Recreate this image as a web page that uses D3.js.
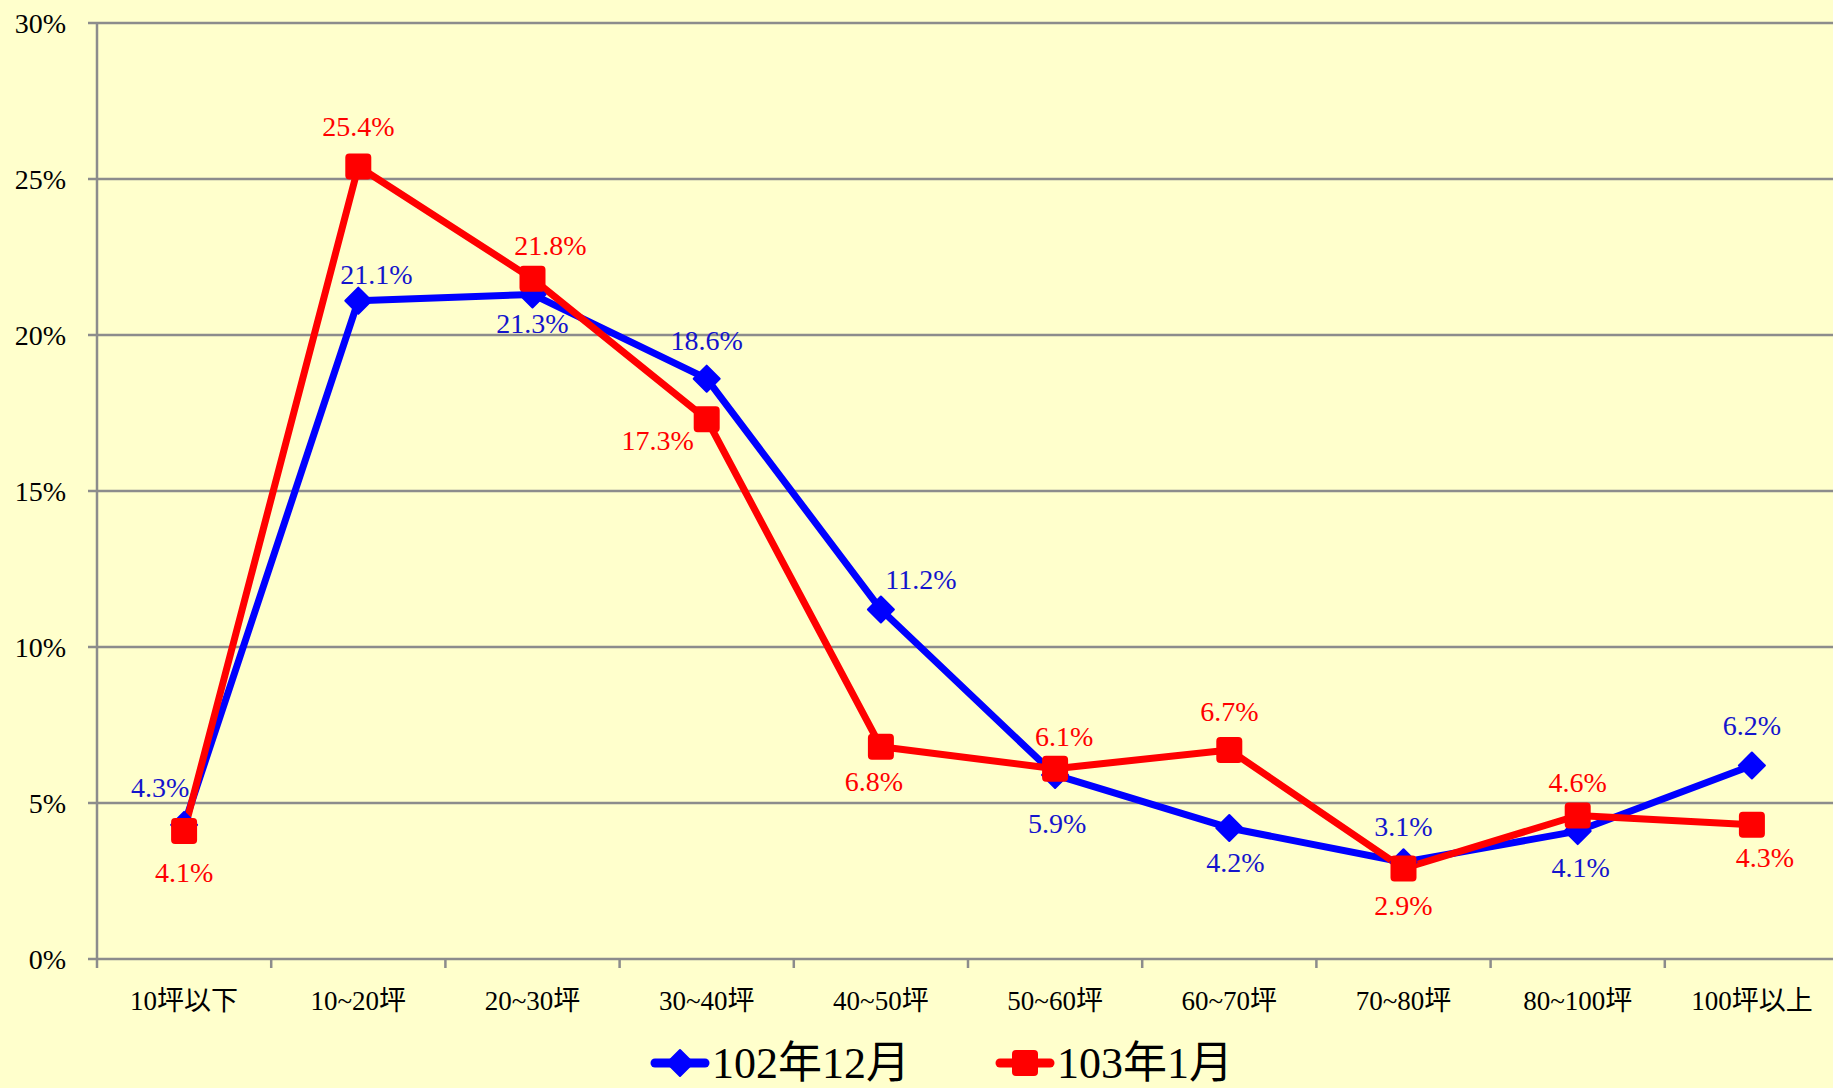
<!DOCTYPE html>
<html>
<head>
<meta charset="utf-8">
<script src="https://cdn.jsdelivr.net/npm/d3@7"></script>
<style>
  html, body { margin: 0; padding: 0; background: #ffffcc; }
  svg { display: block; }
</style>
</head>
<body>
<div id="chart"></div>
<script>
const categories = ['10坪以下', '10~20坪', '20~30坪', '30~40坪', '40~50坪', '50~60坪', '60~70坪', '70~80坪', '80~100坪', '100坪以上'];
const seriesNames = ['102年12月', '103年1月'];
const dec102 = [4.3, 21.1, 21.3, 18.6, 11.2, 5.9, 4.2, 3.1, 4.1, 6.2];
const jan103 = [4.1, 25.4, 21.8, 17.3, 6.8, 6.1, 6.7, 2.9, 4.6, 4.3];
const yTicks = [0, 5, 10, 15, 20, 25, 30];

// label offsets (px) from each point
const decLabelOffset = [[-24, -38], [18, -26], [0, 29], [0, -38], [40, -30], [2, 48], [6, 34], [0, -36], [3, 36], [0, -40]];
const janLabelOffset = [[0, 41], [0, -40], [18, -34], [-49, 21], [-7, 34], [9, -32], [0, -39], [0, 37], [0, -33], [13, 32]];

const FONT = '"Liberation Serif", "Times New Roman", "DejaVu Serif", "Noto Sans CJK TC", serif';

const W = 1833, H = 1088;
const margin = { top: 23, left: 97 };
const plotW = 174.2 * categories.length;
const plotH = 936;

const svg = d3.select('#chart').append('svg')
  .attr('width', W).attr('height', H)
  .attr('font-family', FONT);

svg.append('rect').attr('width', W).attr('height', H).attr('fill', '#ffffcc');

const g = svg.append('g').attr('transform', `translate(${margin.left},${margin.top})`);

const x = d3.scaleBand().domain(categories).range([0, plotW]);
const y = d3.scaleLinear().domain([0, 30]).range([plotH, 0]);

// gridlines
g.selectAll('.grid')
  .data(yTicks)
  .enter().append('line')
  .attr('x1', -9).attr('x2', W)
  .attr('y1', d => y(d)).attr('y2', d => y(d))
  .attr('stroke', '#8c8c8c').attr('stroke-width', 2.5);

// y axis line
g.append('line')
  .attr('x1', 0).attr('x2', 0).attr('y1', 0).attr('y2', plotH + 9)
  .attr('stroke', '#8c8c8c').attr('stroke-width', 2.5);

// x ticks
g.selectAll('.xtick')
  .data(categories.slice(1))
  .enter().append('line')
  .attr('x1', d => x(d)).attr('x2', d => x(d))
  .attr('y1', plotH).attr('y2', plotH + 9)
  .attr('stroke', '#8c8c8c').attr('stroke-width', 2.5);

// y labels
g.selectAll('.ylab')
  .data(yTicks)
  .enter().append('text')
  .attr('x', -31).attr('y', d => y(d))
  .attr('dy', '0.35em')
  .attr('text-anchor', 'end')
  .attr('font-size', 28)
  .attr('fill', '#000')
  .text(d => d + '%');

// x labels
g.selectAll('.xlab')
  .data(categories)
  .enter().append('text')
  .attr('x', d => x(d) + x.bandwidth() / 2)
  .attr('y', plotH + 42)
  .attr('dy', '0.35em')
  .attr('text-anchor', 'middle')
  .attr('font-size', 27)
  .attr('fill', '#000')
  .text(d => d);

const line = d3.line()
  .x((d, i) => x(categories[i]) + x.bandwidth() / 2)
  .y(d => y(d));

const series = [
  { name: seriesNames[0], values: dec102, color: '#0000ff', labelColor: '#1414cc', shape: 'diamond', offsets: decLabelOffset },
  { name: seriesNames[1], values: jan103, color: '#ff0000', labelColor: '#ff0000', shape: 'square', offsets: janLabelOffset }
];

function marker(sel, shape, color) {
  if (shape === 'diamond') {
    sel.append('path')
      .attr('d', 'M0,-13 L13,0 L0,13 L-13,0 Z')
      .attr('fill', color).attr('stroke', color).attr('stroke-width', 2).attr('stroke-linejoin', 'round');
  } else {
    sel.append('rect')
      .attr('x', -12).attr('y', -12).attr('width', 24).attr('height', 24)
      .attr('rx', 3)
      .attr('fill', color).attr('stroke', color).attr('stroke-width', 2);
  }
}

series.forEach(s => {
  g.append('path')
    .datum(s.values)
    .attr('d', line)
    .attr('fill', 'none')
    .attr('stroke', s.color)
    .attr('stroke-width', 7)
    .attr('stroke-linejoin', 'round');
});

series.forEach(s => {
  s.values.forEach((v, i) => {
    const m = g.append('g')
      .attr('transform', `translate(${x(categories[i]) + x.bandwidth() / 2},${y(v)})`);
    marker(m, s.shape, s.color);
  });
});

series.forEach(s => {
  g.selectAll(null)
    .data(s.values)
    .enter().append('text')
    .attr('x', (d, i) => x(categories[i]) + x.bandwidth() / 2 + s.offsets[i][0])
    .attr('y', (d, i) => y(d) + s.offsets[i][1])
    .attr('dy', '0.35em')
    .attr('text-anchor', 'middle')
    .attr('font-size', 28)
    .attr('fill', s.labelColor)
    .text(d => d.toFixed(1) + '%');
});

// legend
const legendX = [652, 997];
series.forEach((s, i) => {
  const lg = svg.append('g').attr('transform', `translate(${legendX[i]},${1063})`);
  lg.append('line').attr('x1', 3).attr('x2', 53).attr('y1', 0).attr('y2', 0)
    .attr('stroke', s.color).attr('stroke-width', 9).attr('stroke-linecap', 'round');
  const mk = lg.append('g').attr('transform', 'translate(28,0)');
  marker(mk, s.shape, s.color);
  lg.append('text')
    .attr('x', 60).attr('y', 0)
    .attr('dy', '0.33em')
    .attr('font-size', 44)
    .attr('fill', '#000')
    .text(s.name);
});
</script>
</body>
</html>
